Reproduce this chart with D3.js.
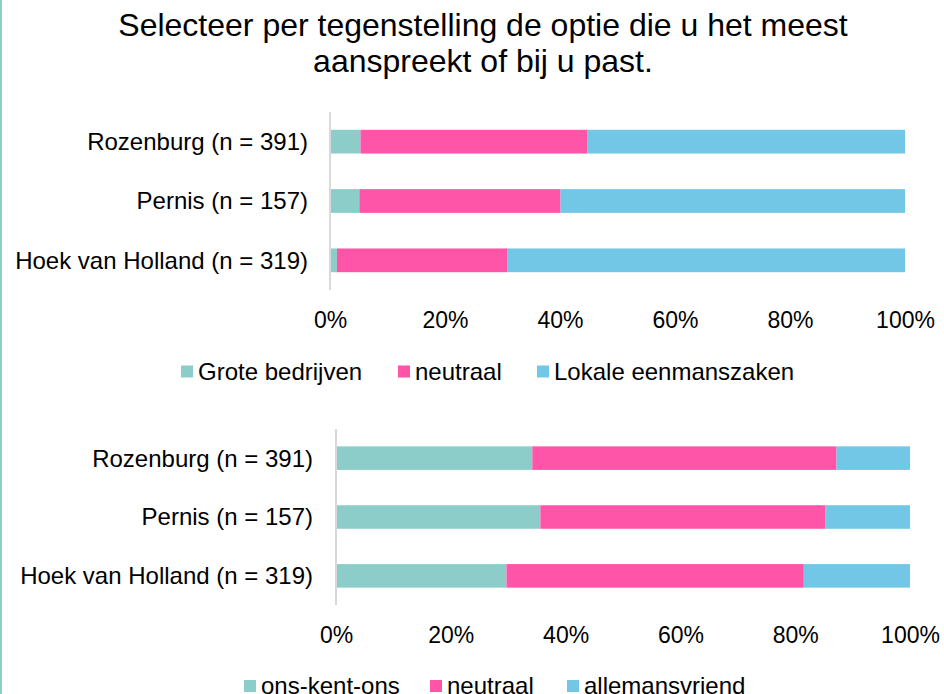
<!DOCTYPE html>
<html><head><meta charset="utf-8">
<script src="https://cdn.jsdelivr.net/npm/d3@7"></script>
<style>body{margin:0;background:#fff;} svg{display:block;font-family:Arial,"Liberation Sans",Helvetica,sans-serif;}</style>
</head><body>
<svg id="c" width="944" height="694"></svg>
<script>
const titleLines = ["Selecteer per tegenstelling de optie die u het meest", "aanspreekt of bij u past."];
const categories = ["Rozenburg (n = 391)", "Pernis (n = 157)", "Hoek van Holland (n = 319)"];
const series1Names = ["Grote bedrijven", "neutraal", "Lokale eenmanszaken"];
const grote = [5.3, 5.1, 1.2];
const neutraal1 = [39.4, 35.0, 29.7];
const lokale = [55.3, 59.9, 69.1];
const series2Names = ["ons-kent-ons", "neutraal", "allemansvriend"];
const onsKentOns = [34.2, 35.6, 29.7];
const neutraal2 = [53.0, 49.7, 51.8];
const allemansvriend = [12.8, 14.7, 18.5];
const tickValues = [0, 20, 40, 60, 80, 100];
const tickLabels = ["0%", "20%", "40%", "60%", "80%", "100%"];
const colors = ["#8DCDC9", "#FF55A8", "#72C7E6"];
const FONT = "Arial, 'Liberation Sans', Helvetica, sans-serif";

const svg = d3.select("#c");
svg.append("rect").attr("x",0).attr("y",0).attr("width",2).attr("height",694).attr("fill","#8DCDC9");

svg.append("text").attr("text-anchor","middle").attr("font-size",32).attr("fill","#000").attr("font-family",FONT)
  .selectAll("tspan").data(titleLines).join("tspan").attr("x",483).attr("y",(d,i)=>36+i*36).text(d=>d);

function drawChart(cfg){
  const g = svg.append("g").attr("font-family",FONT);
  const x = d3.scaleLinear().domain([0,100]).range(cfg.xr);
  const y = d3.scaleBand().domain(categories).range(cfg.yr).paddingInner(0.6).paddingOuter(cfg.po);
  const stack = d3.stack().keys([0,1,2]).value((d,k)=>d.vals[k]);
  const rows = categories.map((c,i)=>({cat:c, vals:cfg.data.map(s=>s[i])}));
  const layers = stack(rows);
  g.selectAll("g.layer").data(layers).join("g").attr("fill",(d,i)=>colors[i])
    .selectAll("rect").data(d=>d).join("rect")
    .attr("x",d=>x(d[0])).attr("width",d=>x(d[1])-x(d[0]))
    .attr("y",d=>y(d.data.cat)).attr("height",y.bandwidth());
  g.append("line").attr("x1",x(0)).attr("x2",x(0)).attr("y1",cfg.yr[0]).attr("y2",cfg.yr[1])
    .attr("stroke","#D9D9D9").attr("stroke-width",2);
  g.selectAll("text.cat").data(categories).join("text").attr("class","cat")
    .attr("x",cfg.labelX).attr("y",d=>y(d)+y.bandwidth()/2).attr("dy","0.35em")
    .attr("text-anchor","end").attr("font-size",24).attr("fill","#000").text(d=>d);
  const ax = d3.axisBottom(x).tickValues(tickValues).tickFormat((d,i)=>tickLabels[i]).tickSize(0).tickPadding(0);
  const axg = g.append("g").attr("transform",`translate(0,${cfg.tickY})`).call(ax);
  axg.select(".domain").remove();
  axg.selectAll("text").attr("font-size",23).attr("fill","#000").attr("font-family",FONT).attr("dy",0).attr("y",0);
  const leg = g.append("g");
  cfg.names.forEach((n,i)=>{
    leg.append("rect").attr("x",cfg.legX[i]).attr("y",cfg.legY-14).attr("width",12).attr("height",12).attr("fill",colors[i]);
    leg.append("text").attr("x",cfg.legX[i]+17).attr("y",cfg.legY).attr("font-size",24).attr("fill","#000").text(n);
  });
}

drawChart({xr:[330,905], yr:[112,290], po:0.3, data:[grote,neutraal1,lokale], labelX:308, tickY:328, names:series1Names, legX:[181,398,537], legY:379.5});
drawChart({xr:[336,910], yr:[429,605], po:0.295, data:[onsKentOns,neutraal2,allemansvriend], labelX:313, tickY:642.5, names:series2Names, legX:[244,430,567], legY:694});
</script>
</body></html>
